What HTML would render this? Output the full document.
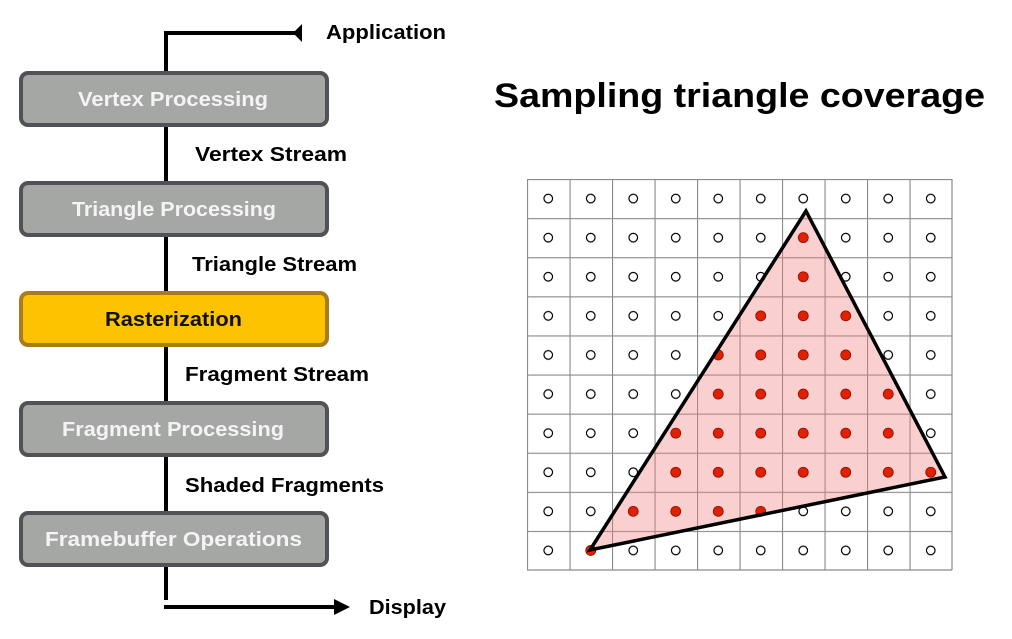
<!DOCTYPE html>
<html><head><meta charset="utf-8"><style>
html,body{margin:0;padding:0;background:#fff;}
svg{display:block;}
text{font-family:"Liberation Sans",sans-serif;font-weight:bold;}
</style></head><body>
<svg width="1012" height="639" viewBox="0 0 1012 639" xmlns="http://www.w3.org/2000/svg">
<defs>
<pattern id="g" x="527" y="179" width="42.5" height="39.1" patternUnits="userSpaceOnUse">
<rect width="42.5" height="39.1" fill="#fff"/>
<path d="M0.5 0 V39.1 M0 0.5 H42.5" stroke="#8a8a8a" stroke-width="1.2"/>
<circle cx="21.25" cy="19.55" r="4.3" fill="#fff" stroke="#000" stroke-width="1.2"/>
</pattern>
</defs>
<!-- pipeline lines -->
<path d="M166 33 H297 M166 31 V600 M164 607 H337" stroke="#000" stroke-width="4" fill="none"/>
<polygon points="293,33 302,24 302,42" fill="#000"/>
<polygon points="350,607 334,599 334,615" fill="#000"/>
<!-- boxes -->
<g stroke-width="4">
<rect x="21" y="73" width="306" height="52" rx="7" fill="#a5a7a5" stroke="#505257"/>
<rect x="21" y="183" width="306" height="52" rx="7" fill="#a5a7a5" stroke="#505257"/>
<rect x="21" y="293" width="306" height="52" rx="7" fill="#fdc300" stroke="#a87c1e"/>
<rect x="21" y="403" width="306" height="52" rx="7" fill="#a5a7a5" stroke="#505257"/>
<rect x="21" y="513" width="306" height="52" rx="7" fill="#a5a7a5" stroke="#505257"/>
</g>
<g font-size="20" fill="#f4f4f4">
<text x="78" y="106" textLength="190" lengthAdjust="spacingAndGlyphs">Vertex Processing</text>
<text x="72" y="216" textLength="204" lengthAdjust="spacingAndGlyphs">Triangle Processing</text>
<text x="105" y="326" textLength="137" lengthAdjust="spacingAndGlyphs" fill="#111">Rasterization</text>
<text x="62" y="436" textLength="222" lengthAdjust="spacingAndGlyphs">Fragment Processing</text>
<text x="45" y="546" textLength="257" lengthAdjust="spacingAndGlyphs">Framebuffer Operations</text>
</g>
<g font-size="20" fill="#000">
<text x="326" y="39" textLength="120" lengthAdjust="spacingAndGlyphs">Application</text>
<text x="195" y="161" textLength="152" lengthAdjust="spacingAndGlyphs">Vertex Stream</text>
<text x="192" y="271" textLength="165" lengthAdjust="spacingAndGlyphs">Triangle Stream</text>
<text x="185" y="381" textLength="184" lengthAdjust="spacingAndGlyphs">Fragment Stream</text>
<text x="185" y="492" textLength="199" lengthAdjust="spacingAndGlyphs">Shaded Fragments</text>
<text x="369" y="614" textLength="77" lengthAdjust="spacingAndGlyphs">Display</text>
</g>
<text x="494" y="107" font-size="34" textLength="491" lengthAdjust="spacingAndGlyphs" fill="#000">Sampling triangle coverage</text>
<!-- grid -->
<rect x="527" y="179" width="425" height="391" fill="url(#g)"/>
<path d="M952 179 V570 M527 570 H952" stroke="#8a8a8a" stroke-width="1.2"/>
<polygon points="806,211 945,477 590,550" fill="#f08080" fill-opacity="0.38"/>
<g fill="#e02000" stroke="#8a1000" stroke-width="0.8">
<circle cx="803.25" cy="237.65" r="5"/>
<circle cx="803.25" cy="276.75" r="5"/>
<circle cx="760.75" cy="315.85" r="5"/><circle cx="803.25" cy="315.85" r="5"/><circle cx="845.75" cy="315.85" r="5"/>
<circle cx="718.25" cy="354.95" r="5"/><circle cx="760.75" cy="354.95" r="5"/><circle cx="803.25" cy="354.95" r="5"/><circle cx="845.75" cy="354.95" r="5"/>
<circle cx="718.25" cy="394.05" r="5"/><circle cx="760.75" cy="394.05" r="5"/><circle cx="803.25" cy="394.05" r="5"/><circle cx="845.75" cy="394.05" r="5"/><circle cx="888.25" cy="394.05" r="5"/>
<circle cx="675.75" cy="433.15" r="5"/><circle cx="718.25" cy="433.15" r="5"/><circle cx="760.75" cy="433.15" r="5"/><circle cx="803.25" cy="433.15" r="5"/><circle cx="845.75" cy="433.15" r="5"/><circle cx="888.25" cy="433.15" r="5"/>
<circle cx="675.75" cy="472.25" r="5"/><circle cx="718.25" cy="472.25" r="5"/><circle cx="760.75" cy="472.25" r="5"/><circle cx="803.25" cy="472.25" r="5"/><circle cx="845.75" cy="472.25" r="5"/><circle cx="888.25" cy="472.25" r="5"/><circle cx="930.75" cy="472.25" r="5"/>
<circle cx="633.25" cy="511.35" r="5"/><circle cx="675.75" cy="511.35" r="5"/><circle cx="718.25" cy="511.35" r="5"/><circle cx="760.75" cy="511.35" r="5"/>
<circle cx="590.75" cy="550.45" r="5"/>
</g>
<polygon points="806,211 945,477 590,550" fill="none" stroke="#000" stroke-width="3.5" stroke-linejoin="miter"/>
</svg>
</body></html>
